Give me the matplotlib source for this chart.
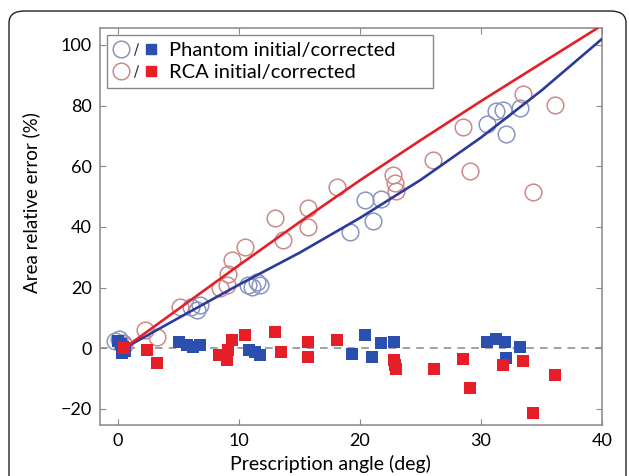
import matplotlib
matplotlib.use("Agg")
import matplotlib.pyplot as plt
from matplotlib.lines import Line2D
from matplotlib.legend_handler import HandlerTuple
from matplotlib.patches import FancyBboxPatch

plt.rcParams['font.family'] = ['Lato', 'DejaVu Sans']

# Phantom, initial (open circles)
ph_init_x = [-0.3, 0.1, 0.4, 6.0, 6.5, 6.8, 10.7, 11.1, 11.7, 11.5, 19.2, 20.4, 21.1, 21.7,
             30.5, 31.2, 31.8, 32.1, 33.2]
ph_init_y = [2.5, 3.0, 1.8, 13.5, 12.5, 14.2, 20.8, 20.1, 20.8, 21.8, 38.4, 48.8, 41.9, 49.2,
             73.8, 78.3, 78.5, 70.5, 79.3]

# RCA, initial (open circles)
rca_init_x = [0.5, 2.2, 3.2, 5.1, 8.4, 9.0, 9.1, 9.4, 10.5, 13.0, 13.6, 15.7, 15.7, 18.1,
              22.7, 22.9, 23.0, 26.0, 28.5, 29.1, 33.5, 34.3, 36.1]
rca_init_y = [1.0, 5.9, 3.6, 13.5, 20.0, 20.8, 24.6, 29.0, 33.3, 42.9, 35.6, 46.2, 40.0, 53.1,
              57.0, 54.5, 52.0, 62.0, 73.0, 58.4, 83.8, 51.5, 80.2]

# Phantom, corrected (filled squares)
ph_corr_x = [0.0, 0.2, 0.4, 0.6, 0.3, 5.0, 5.7, 6.2, 6.8, 10.8, 11.3, 11.7, 19.3, 20.4,
             21.0, 21.7, 22.8, 30.5, 31.2, 32.0, 32.1, 33.2]
ph_corr_y = [2.5, 1.5, 0.5, -1.0, -1.5, 2.1, 1.0, 0.4, 1.0, -0.7, -1.2, -2.3, -1.8, 4.3,
             -2.9, 1.8, 2.1, 2.1, 3.2, 2.1, -3.1, 0.4]

# RCA, corrected (filled squares)
rca_corr_x = [0.45, 2.4, 3.2, 8.3, 9.0, 9.1, 9.4, 10.5, 13.0, 13.5, 15.7, 15.7, 18.1,
              22.8, 22.9, 23.0, 26.1, 28.5, 29.1, 31.8, 33.5, 34.3, 36.1]
rca_corr_y = [0.0, -0.7, -4.8, -2.3, -4.0, -0.7, 2.6, 4.3, 5.4, -1.2, 2.1, -2.9, 2.6,
              -4.0, -5.6, -6.7, -6.7, -3.4, -13.0, -5.6, -4.3, -21.3, -8.9]

# fitted curves
ph_fit_x = [0.5, 5, 10, 15, 20, 25, 30, 35, 40]
ph_fit_y = [0, 10, 21, 31.5, 43, 55.5, 69.5, 85, 102]
rca_fit_x = [0.5, 5, 10, 15, 20, 25, 30, 35, 39.6]
rca_fit_y = [0, 13, 27.4, 41.6, 55.4, 68.6, 81.5, 94, 105.5]

blue_sq = '#2a4fae'
red_sq = '#e61e28'
blue_ci = '#8a95c0'
red_ci = '#cc8a8a'

fig = plt.figure(figsize=(6.29, 4.76), dpi=100)
fig.patches.append(FancyBboxPatch((9 / 629, -0.05), 617 / 629, 1 - 11 / 476 + 0.05,
                                  boxstyle='round,pad=0,rounding_size=0.025',
                                  transform=fig.transFigure, fill=False,
                                  edgecolor='#222222', linewidth=1.0))
ax = fig.add_axes([100 / 629, 1 - 425 / 476, 502 / 629, 397 / 476])

ax.axhline(0, color='#888888', linestyle=(0, (5, 4)), linewidth=1.1, zorder=1)

ax.plot(ph_init_x, ph_init_y, 'o', mfc='none', mec=blue_ci, ms=12, mew=1.1, zorder=2)
ax.plot(rca_init_x, rca_init_y, 'o', mfc='none', mec=red_ci, ms=12, mew=1.1, zorder=2)
ax.plot(ph_fit_x, ph_fit_y, '-', color='#2b3a9c', lw=1.9, zorder=3)
ax.plot(rca_fit_x, rca_fit_y, '-', color='#e3202a', lw=1.9, zorder=3)
ax.plot(ph_corr_x, ph_corr_y, 's', color=blue_sq, ms=8.8, mew=0, zorder=4)
ax.plot(rca_corr_x, rca_corr_y, 's', color=red_sq, ms=8.8, mew=0, zorder=4)

ax.set_xlim(-1.5, 40)
ax.set_ylim(-25.3, 105.6)
ax.set_xticks([0, 10, 20, 30, 40])
ax.set_yticks([-20, 0, 20, 40, 60, 80, 100])
ax.set_yticklabels(['\u221220', '0', '20', '40', '60', '80', '100'])
ax.tick_params(direction='in', length=4, width=0.8, color='#888888', labelsize=13,
               top=True, right=True, pad=6)
for s in ax.spines.values():
    s.set_color('#888888')
    s.set_linewidth(1.1)
ax.set_xlabel('Prescription angle (deg)', fontsize=14, labelpad=2)
ax.xaxis.set_label_coords(0.46, -0.075)
ax.set_ylabel('Area relative error (%)', fontsize=13.5, labelpad=4)
ax.yaxis.set_label_coords(-0.12, 0.56)

slash = Line2D([], [], marker='$/$', color='#333333', linestyle='None', ms=9, mew=0)
h1 = (Line2D([], [], marker='o', mfc='none', mec=blue_ci, ms=12, mew=1.1, ls='None'), slash,
      Line2D([], [], marker='s', color=blue_sq, ms=7.5, ls='None'))
h2 = (Line2D([], [], marker='o', mfc='none', mec=red_ci, ms=12, mew=1.1, ls='None'), slash,
      Line2D([], [], marker='s', color=red_sq, ms=7.5, ls='None'))
leg = ax.legend([h1, h2], ['Phantom initial/corrected', 'RCA initial/corrected'],
                handler_map={tuple: HandlerTuple(ndivide=None, pad=0.0)},
                loc='upper left', bbox_to_anchor=(0.014, 0.5, 0.65, 0.482), mode='expand',
                borderaxespad=0, fontsize=14.5, handlelength=2.2, handletextpad=0.55,
                borderpad=0.35, labelspacing=0.25, fancybox=False, framealpha=1,
                edgecolor='#888888')
leg.get_frame().set_linewidth(1.0)

fig.savefig('out.png', dpi=100)
